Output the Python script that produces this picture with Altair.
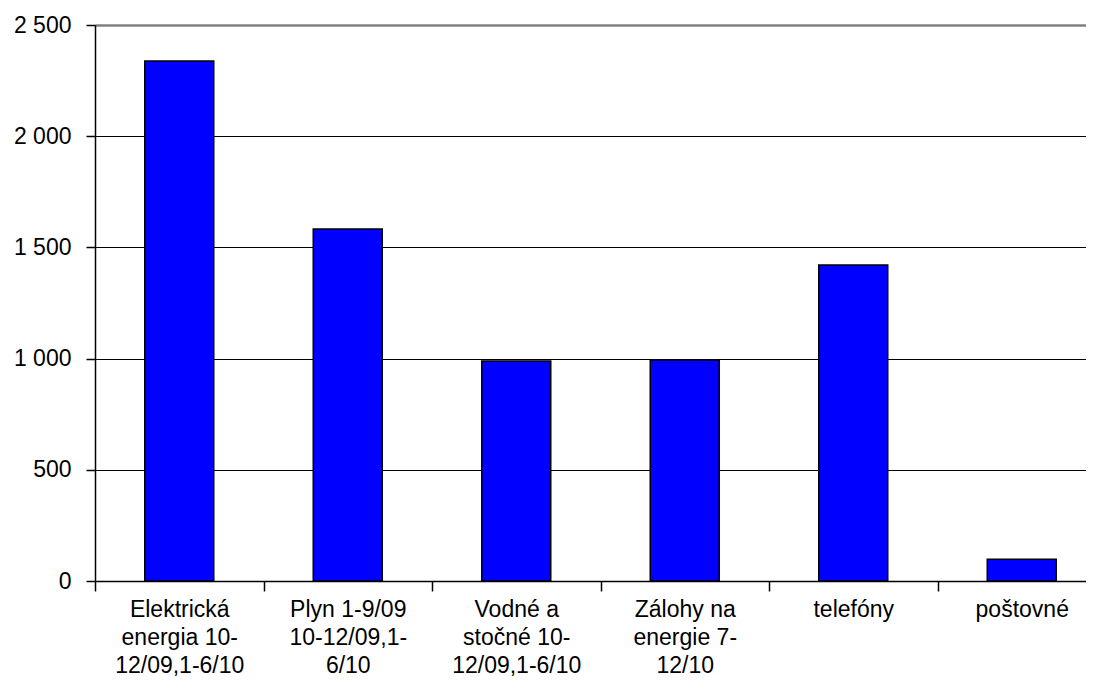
import json
import altair as alt
import pandas as pd

categories = [
    "Elektrická\nenergia 10-\n12/09,1-6/10",
    "Plyn 1-9/09\n10-12/09,1-\n6/10",
    "Vodné a\nstočné 10-\n12/09,1-6/10",
    "Zálohy na\nenergie 7-\n12/10",
    "telefóny",
    "poštovné",
]
values = [2338, 1583, 989, 994, 1421, 98]
y_ticks = [0, 500, 1000, 1500, 2000, 2500]

df = pd.DataFrame({
    "kategorie": categories,
    "hodnota": values,
    "poradie": [i + 0.5 for i in range(len(categories))],
})

FONT = "Liberation Sans"
PLOT_W = 991
STEP = 168.5
cat_js = json.dumps(categories, ensure_ascii=False)

chart = alt.Chart(df).mark_bar(
    color="#0000FF", stroke="black", strokeWidth=1.5, width=69, orient="vertical",
).encode(
    x=alt.X(
        "poradie:Q",
        title=None,
        scale=alt.Scale(domain=[0, PLOT_W / STEP], nice=False, zero=False, padding=0),
        axis=alt.Axis(
            values=list(range(len(categories))),
            labelExpr=f"split({cat_js}[datum.value], '\\n')",
            labelOffset=STEP / 2,
            labelFont=FONT,
            labelFontSize=23,
            labelColor="black",
            labelLineHeight=28,
            labelPadding=7,
            labelAlign="center",
            labelBaseline="top",
            labelAngle=0,
            labelOverlap=False,
            labelFlush=False,
            labelBound=False,
            labelLimit=300,
            grid=False,
            tickSize=10,
            tickColor="black",
            tickWidth=1.5,
            domainColor="black",
            domainWidth=1.5,
        ),
    ),
    y=alt.Y(
        "hodnota:Q",
        title=None,
        scale=alt.Scale(domain=[0, 2500], nice=False),
        axis=alt.Axis(
            values=y_ticks,
            labelExpr="replace(format(datum.value, ','), ',', ' ')",
            labelFont=FONT,
            labelFontSize=23,
            labelColor="black",
            labelPadding=15,
            tickSize=9,
            tickColor="black",
            tickWidth=1.5,
            domainColor="black",
            domainWidth=1.5,
            grid=True,
            gridColor={"condition": {"test": "datum.value === 2500", "value": "#808080"}, "value": "black"},
            gridWidth={"condition": {"test": "datum.value === 2500", "value": 2.5}, "value": 1.2},
            gridOpacity=1,
        ),
    ),
).properties(
    width=PLOT_W,
    height=556,
    padding={"left": 87, "top": 17, "right": 0, "bottom": 100},
    autosize=alt.AutoSizeParams(type="none"),
).configure_view(stroke=None).configure(background="white")

chart.save("out.html", embed_options={"renderer": "svg", "actions": False})
